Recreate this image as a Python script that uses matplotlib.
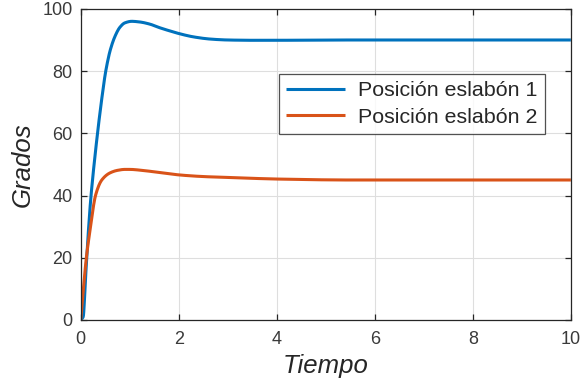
import matplotlib
matplotlib.use("Agg")
import matplotlib.pyplot as plt
from matplotlib.ticker import MultipleLocator
import numpy as np

plt.rcParams["font.family"] = ["Liberation Sans", "DejaVu Sans"]

# Data
tiempo_1 = [0.0, 0.05, 0.1, 0.15, 0.2, 0.25, 0.3, 0.35, 0.4, 0.45,
            0.5, 0.55, 0.6, 0.7, 0.8, 0.9, 1.04, 1.2, 1.41, 1.6, 1.8,
            2.02, 2.3, 2.64, 3.0, 3.5, 4.0, 5.0, 6.0, 8.0, 10.0]
posicion_1 = [0.0, 1.0, 14.0, 27.0, 38.0, 46.5, 54.0, 61.0, 67.5, 73.5,
              79.0, 83.2, 86.6, 91.2, 94.1, 95.5, 96.0, 95.8, 95.1, 94.0, 93.0,
              92.0, 91.0, 90.3, 90.0, 89.9, 89.9, 90.0, 90.0, 90.0, 90.0]

tiempo_2 = [0.0, 0.115, 0.19, 0.305, 0.43, 0.6, 0.75, 0.9, 1.0, 1.25,
            1.51, 2.03, 2.5, 3.04, 4.02, 5.5, 7.0, 10.0]
posicion_2 = [0.0, 20.0, 28.9, 40.2, 45.0, 47.3, 48.1, 48.4, 48.4, 48.1,
              47.6, 46.6, 46.1, 45.8, 45.3, 45.0, 45.0, 45.0]

etiquetas = ["Posición eslabón 1", "Posición eslabón 2"]
colores = ["#0072BD", "#D95319"]


def suave(t, y, n=400):
    # monotone cubic interpolation between the read points, for a smooth trace
    t = np.asarray(t, float)
    y = np.asarray(y, float)
    h = np.diff(t)
    d = np.diff(y) / h
    m = np.zeros_like(y)
    m[0], m[-1] = d[0], d[-1]
    for i in range(1, len(y) - 1):
        if d[i - 1] * d[i] > 0:
            w1 = 2 * h[i] + h[i - 1]
            w2 = h[i] + 2 * h[i - 1]
            m[i] = (w1 + w2) / (w1 / d[i - 1] + w2 / d[i])
    tt = np.linspace(t[0], t[-1], n * 4)
    k = np.clip(np.searchsorted(t, tt) - 1, 0, len(t) - 2)
    s = (tt - t[k]) / h[k]
    h00 = 2 * s**3 - 3 * s**2 + 1
    h10 = s**3 - 2 * s**2 + s
    h01 = -2 * s**3 + 3 * s**2
    h11 = s**3 - s**2
    yy = h00 * y[k] + h10 * h[k] * m[k] + h01 * y[k + 1] + h11 * h[k] * m[k + 1]
    return tt, yy


fig = plt.figure(figsize=(5.87, 3.86), dpi=100)
ax = fig.add_axes([0.1375, 0.171, 0.835, 0.806])

for t, y, lab, col in zip([tiempo_1, tiempo_2], [posicion_1, posicion_2],
                          etiquetas, colores):
    tt, yy = suave(t, y)
    ax.plot(tt, yy, color=col, linewidth=2.2, label=lab, solid_capstyle="butt")

ax.set_xlim(0, 10)
ax.set_ylim(0, 100)
ax.xaxis.set_major_locator(MultipleLocator(2))
ax.yaxis.set_major_locator(MultipleLocator(20))

ax.grid(True, color="#dedede", linewidth=0.8)
ax.set_axisbelow(True)
for sp in ax.spines.values():
    sp.set_color("#262626")
    sp.set_linewidth(0.9)
ax.tick_params(direction="in", length=4, width=0.9, color="#262626",
               labelcolor="#3a3a3a", labelsize=13, top=True, right=True)
ax.tick_params(axis="x", pad=8)
ax.tick_params(axis="y", pad=6)

ax.set_xlabel("Tiempo", fontsize=18.5, style="italic", color="#262626", labelpad=4)
ax.set_ylabel("Grados", fontsize=18.5, style="italic", color="#262626", labelpad=5)

leg = ax.legend(loc="upper left", bbox_to_anchor=(0.404, 0.791), fontsize=15.4,
                frameon=True, fancybox=False, edgecolor="#262626",
                handlelength=2.75, handletextpad=0.6, borderpad=0.35,
                labelspacing=0.35, borderaxespad=0)
leg.get_frame().set_linewidth(0.9)
for txt in leg.get_texts():
    txt.set_color("#262626")

fig.savefig("out.png", dpi=100)
